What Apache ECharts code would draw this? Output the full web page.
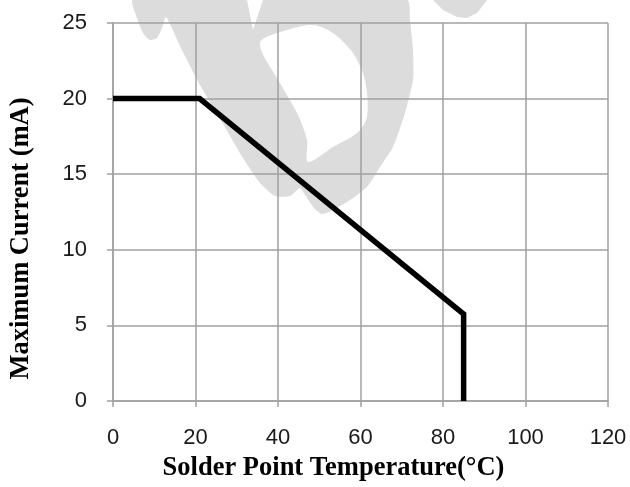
<!DOCTYPE html>
<html>
<head>
<meta charset="utf-8">
<script src="https://cdn.jsdelivr.net/npm/echarts@6/dist/echarts.min.js"></script>
<style>html,body{margin:0;padding:0;background:#fff}#c{width:630px;height:487px}</style>
</head>
<body>
<div id="c"></div>
<script>
var temperature = [0, 21, 85, 85];
var current = [20, 20, 5.75, 0];
var xTicks = [0, 20, 40, 60, 80, 100, 120];
var yTicks = [0, 5, 10, 15, 20, 25];
var xName = 'Solder Point Temperature(\u00B0C)';
var yName = 'Maximum Current (mA)';

var wmGray = '#dcdcdc';
var chart = echarts.init(document.getElementById('c'), null, {renderer: 'canvas'});
chart.setOption({
  backgroundColor: '#fff',
  animation: false,
  graphic: {
    elements: [
      {type: 'polygon', z: 0, silent: true, shape: {smooth: 0.2, points: [
        [133,0],[137,18],[143,33],[150,40],[157,38],[162,28],[166,17],[182,50],[200,85],[222,122],[243,158],[260,183],[275,196],[290,196],[300,188],[305,195],[314,208],[322,214],[333,210],[350,200],[367,187],[380,167],[393,147],[405,113],[413,80],[413,50],[410,20],[407,0]
      ]}, style: {fill: wmGray}},
      {type: 'polygon', z: 0, silent: true, shape: {points: [
        [433,0],[443,10],[457,17],[467,18],[477,13],[487,0]
      ]}, style: {fill: wmGray}},
      {type: 'polygon', z: 1, silent: true, shape: {points: [
        [247,0],[253,30],[263,0]
      ]}, style: {fill: '#fff'}},
      {type: 'polygon', z: 1, silent: true, shape: {smooth: 0.3, points: [
        [260,43],[287,30],[313,25],[333,33],[353,53],[365,80],[367,117],[357,133],[333,147],[308,162],[307,140],[297,113],[280,83]
      ]}, style: {fill: '#fff'}}
    ]
  },
  grid: {left: 111, right: 22, top: 23, bottom: 85, containLabel: false},
  xAxis: {
    type: 'value', min: xTicks[0], max: xTicks[xTicks.length-1], interval: 20, z: 3,
    name: xName, nameLocation: 'middle', nameGap: 54,
    nameTextStyle: {fontFamily: 'Liberation Serif', fontWeight: 'bold', fontSize: 26.5, color: '#000', padding: [0, 54, 0, 0]},
    axisLine: {show: true, lineStyle: {color: '#a0a0a0', width: 1.5}},
    axisTick: {show: true, length: 6, lineStyle: {color: '#a0a0a0', width: 1.5}},
    axisLabel: {margin: 26, fontFamily: 'Liberation Sans', fontSize: 22, color: '#1a1a1a'},
    splitLine: {show: true, lineStyle: {color: '#a0a0a0', width: 1.5}}
  },
  yAxis: {
    type: 'value', min: yTicks[0], max: yTicks[yTicks.length-1], interval: 5, z: 3,
    name: yName, nameLocation: 'middle', nameGap: 78,
    nameTextStyle: {fontFamily: 'Liberation Serif', fontWeight: 'bold', fontSize: 26.5, color: '#000', padding: [0, 53, 0, 0]},
    axisLine: {show: true, lineStyle: {color: '#a0a0a0', width: 1.5}},
    axisTick: {show: true, length: 6, lineStyle: {color: '#a0a0a0', width: 1.5}},
    axisLabel: {margin: 26, fontFamily: 'Liberation Sans', fontSize: 22, color: '#1a1a1a'},
    splitLine: {show: true, lineStyle: {color: '#a0a0a0', width: 1.5}}
  },
  series: [{
    type: 'line', z: 5,
    data: temperature.map(function (t, i) { return [t, current[i]]; }),
    showSymbol: false, symbol: 'none',
    lineStyle: {color: '#000', width: 5.5, join: 'miter', cap: 'butt'}
  }]
});
</script>
</body>
</html>
